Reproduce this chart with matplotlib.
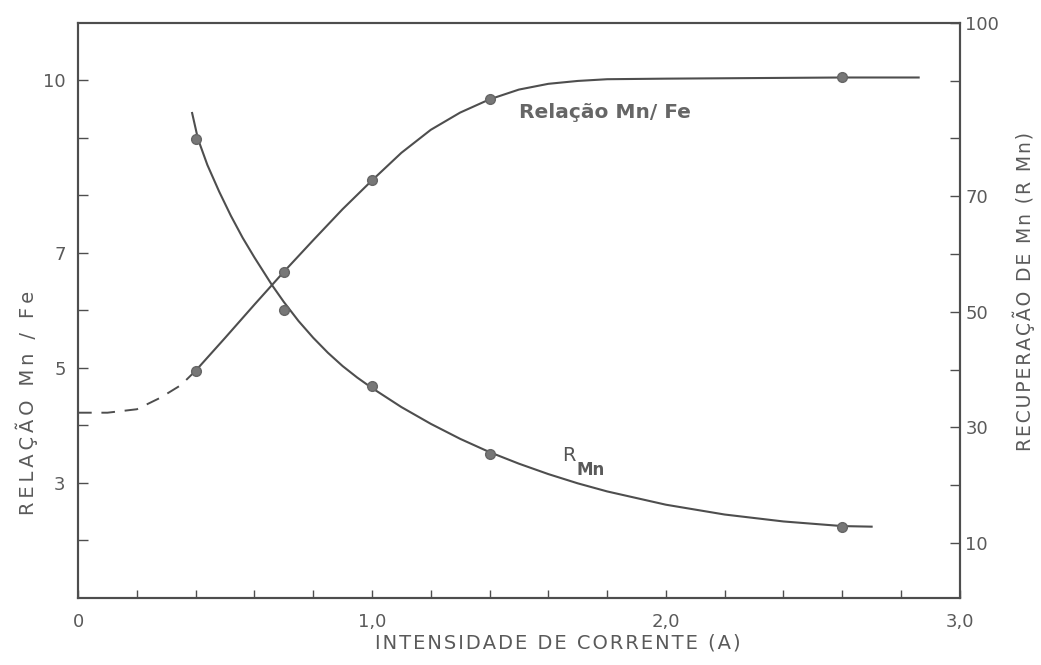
import matplotlib
matplotlib.use("Agg")
import matplotlib.pyplot as plt

# measured points
corrente = [0.4, 0.7, 1.0, 1.4, 2.6]
rel_mn_fe = [4.95, 6.67, 8.26, 9.67, 10.05]
rec_mn = [79.9, 50.3, 37.2, 25.4, 12.8]

# hand-drawn curves
curva_rel_x = [0.4, 0.5, 0.6, 0.7, 0.8, 0.9, 1.0, 1.1, 1.2, 1.3, 1.4, 1.5, 1.6, 1.7,
               1.8, 2.0, 2.3, 2.6, 2.86]
curva_rel_y = [4.95, 5.52, 6.1, 6.67, 7.22, 7.76, 8.26, 8.74, 9.14, 9.44, 9.67, 9.84,
               9.94, 9.99, 10.02, 10.03, 10.04, 10.05, 10.05]
tracejado_x = [0.0, 0.1, 0.2, 0.28, 0.35, 0.4]
tracejado_y = [4.22, 4.22, 4.28, 4.48, 4.70, 4.95]

curva_rec_x = [0.388, 0.408, 0.44, 0.48, 0.52, 0.56, 0.60, 0.66, 0.70, 0.75, 0.80,
               0.85, 0.90, 0.95, 1.0, 1.1, 1.2, 1.3, 1.4, 1.5, 1.6, 1.7, 1.8, 2.0,
               2.2, 2.4, 2.6, 2.7]
curva_rec_y = [84.4, 79.9, 75.4, 70.8, 66.6, 62.8, 59.4, 54.6, 51.7, 48.4, 45.5,
               42.9, 40.6, 38.6, 36.8, 33.5, 30.6, 28.0, 25.7, 23.7, 21.9, 20.3, 18.9, 16.6,
               14.9, 13.7, 12.9, 12.8]

xticks = [0.0, 0.2, 0.4, 0.6, 0.8, 1.0, 1.2, 1.4, 1.6, 1.8, 2.0, 2.2, 2.4, 2.6, 2.8, 3.0]
xlabels = ["0", "", "", "", "", "1,0", "", "", "", "", "2,0", "", "", "", "", "3,0"]
yticks_esq = [2, 3, 4, 5, 6, 7, 8, 9, 10]
ylabels_esq = ["", "3", "", "5", "", "7", "", "", "10"]
yticks_dir = [10, 20, 30, 40, 50, 60, 70, 80, 90, 100]
ylabels_dir = ["10", "", "30", "", "50", "", "70", "", "", "100"]

cor = "#4e4e4e"
cor_txt = "#5a5a5a"


def espacado(txt, sep):
    # lettering in the original is spaced out
    return sep.join(txt)


plt.rcParams["font.family"] = ["DejaVu Sans"]

fig = plt.figure(figsize=(10.41, 6.65), dpi=100)
ax = fig.add_axes([0.075, 0.101, 0.847, 0.8646])
ax2 = ax.twinx()

ax.plot(curva_rel_x, curva_rel_y, color=cor, lw=1.5)
ax.plot(tracejado_x, tracejado_y, color=cor, lw=1.4, dashes=(7, 5))
ax.plot(corrente, rel_mn_fe, "o", ms=7, color="#777777", mec="#666666", zorder=5)

ax2.plot(curva_rec_x, curva_rec_y, color=cor, lw=1.5)
ax2.plot(corrente, rec_mn, "o", ms=7, color="#777777", mec="#666666", zorder=5)

ax.set_xlim(0, 3.0)
ax.set_ylim(1.0, 11.0)
ax2.set_ylim(0.48, 100.0)

ax.set_xticks(xticks)
ax.set_xticklabels(xlabels)
ax.set_yticks(yticks_esq)
ax.set_yticklabels(ylabels_esq)
ax2.set_yticks(yticks_dir)
ax2.set_yticklabels(ylabels_dir)

ax.tick_params(axis="x", direction="in", length=6, width=1, color=cor, pad=11,
               labelsize=13, labelcolor=cor_txt)
ax.tick_params(axis="y", direction="in", length=7, width=1, color=cor, pad=9,
               labelsize=13, labelcolor=cor_txt)
ax2.tick_params(axis="y", direction="in", length=7, width=1, color=cor, pad=4,
                labelsize=13, labelcolor=cor_txt)

for a in (ax, ax2):
    for s in a.spines.values():
        s.set_color(cor)
        s.set_linewidth(1.5)

ax.set_xlabel(espacado("INTENSIDADE DE CORRENTE (A)", "\u200a"), fontsize=14,
              color=cor_txt)
ax.set_ylabel(espacado("RELAÇÃO Mn / Fe", "\u2009"), fontsize=14, color=cor_txt)
ax2.set_ylabel(espacado("RECUPERAÇÃO DE Mn (R Mn)", "\u200a"), fontsize=13.5,
               color=cor_txt)
ax.xaxis.set_label_coords(0.544, -0.062)
ax.yaxis.set_label_coords(-0.045, 0.339)
ax2.yaxis.set_label_coords(1.060, 0.532)

ax.text(1.50, 9.44, "Relação Mn/ Fe", fontsize=14.5, fontweight="bold",
        color="#666666", ha="left", va="center")
ax.text(1.67, 3.47, "R", fontsize=14, color="#555555", ha="center", va="center")
ax.text(1.745, 3.22, "Mn", fontsize=12, fontweight="semibold", color="#5a5a5a",
        ha="center", va="center")

fig.savefig("out.png", dpi=100, facecolor="white")
